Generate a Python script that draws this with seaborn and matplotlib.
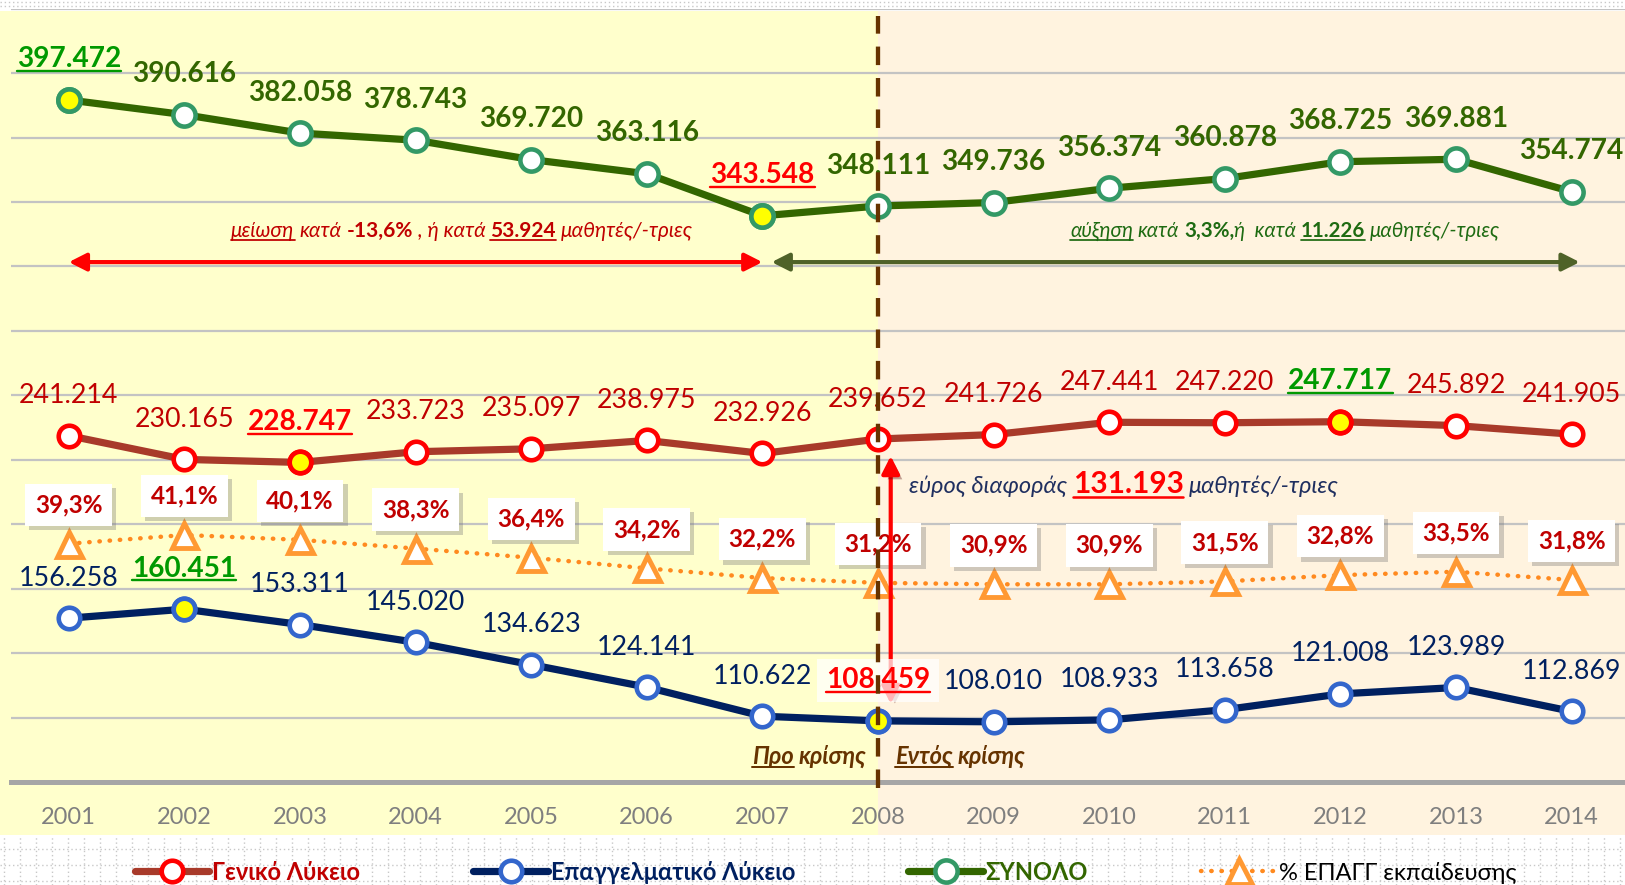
import numpy as np
import pandas as pd
import seaborn as sns
import matplotlib
matplotlib.use("Agg")
import matplotlib.pyplot as plt
import matplotlib.transforms as mtransforms
import matplotlib.patheffects as pe
from matplotlib.lines import Line2D
from matplotlib.patches import Rectangle

# ---------------------------------------------------------------- data
years = list(range(2001, 2015))
total = [397472, 390616, 382058, 378743, 369720, 363116, 343548,
         348111, 349736, 356374, 360878, 368725, 369881, 354774]
general = [241214, 230165, 228747, 233723, 235097, 238975, 232926,
           239652, 241726, 247441, 247220, 247717, 245892, 241905]
vocational = [156258, 160451, 153311, 145020, 134623, 124141, 110622,
              108459, 108010, 108933, 113658, 121008, 123989, 112869]
voc_share = [39.3, 41.1, 40.1, 38.3, 36.4, 34.2, 32.2,
             31.2, 30.9, 30.9, 31.5, 32.8, 33.5, 31.8]
series_names = ["Γενικό Λύκειο", "Επαγγελματικό Λύκειο", "ΣΥΝΟΛΟ",
                "% ΕΠΑΓΓ εκπαίδευσης"]
# highlighted peak / low years of each series
peak_years = {"total": 2001, "general": 2012, "vocational": 2002}
low_years = {"total": 2007, "general": 2003, "vocational": 2008}
crisis_year = 2008

df = pd.DataFrame({"year": years, "total": total, "general": general,
                   "vocational": vocational, "share": voc_share})


def fmt_num(v):
    return f"{int(round(v)):,}".replace(",", ".")


def fmt_pct(p):
    return f"{p:.1f}%".replace(".", ",")


# ---------------------------------------------------------------- style
sns.set_theme(style="white")
plt.rcParams["font.family"] = ["Lato", "DejaVu Sans"]

W, H = 1625, 885
fig = plt.figure(figsize=(W / 100, H / 100), dpi=100)
fig.patch.set_facecolor("white")

ax_left, ax_bottom_px, ax_top_px, cat_w = 11, 782, 8.6, 115.6
ax = fig.add_axes([ax_left / W, 1 - ax_bottom_px / H,
                   14 * cat_w / W, (ax_bottom_px - ax_top_px) / H])
ax.set_facecolor("none")
ax.set_xlim(2000.5, 2014.5)
ax.set_ylim(80000, 440000)

ax2 = ax.twinx()
ax2.set_ylim(-10, 150)
ax2.axis("off")

# ---------------------------------------------------------------- axes
ax.set_yticks(np.arange(110000, 440001, 30000))
ax.tick_params(axis="y", length=0, labelleft=False)
ax.grid(axis="y", color="#C3C3C3", lw=1.6)
ax.grid(axis="x", visible=False)
ax.set_axisbelow(True)
ax.set_xticks(years)
ax.set_xticklabels([str(y) for y in years])
ax.set_xticks(np.arange(2000.5, 2015, 1), minor=True)
ax.tick_params(axis="x", which="major", length=0, pad=18,
               labelsize=17, labelcolor="#7F7F7F")
ax.tick_params(axis="x", which="minor", length=7, width=2.6,
               color="#A6A6A6", direction="out")
for side in ("left", "right", "top"):
    ax.spines[side].set_visible(False)
ax.spines["bottom"].set_color("#A6A6A6")
ax.spines["bottom"].set_linewidth(3.6)

# ---------------------------------------------------------------- backgrounds
split = ax.transData.transform((crisis_year, 0))[0] / fig.bbox.width
top_f, bot_f = 1 - 11 / H, 1 - 835 / H
fig.add_artist(Rectangle((0, bot_f), split, top_f - bot_f, transform=fig.transFigure,
                         fc="#FFFFCC", ec="none", zorder=-3))
fig.add_artist(Rectangle((split, bot_f), 1 - split, top_f - bot_f,
                         transform=fig.transFigure, fc="#FFF3DF", ec="none", zorder=-3))
# dotted chart-area pattern above and below the plot
for xp in np.arange(4, W, 16):
    fig.add_artist(Line2D([xp / W, xp / W], [0, bot_f], transform=fig.transFigure,
                          color="#C8C8C8", lw=1, ls=(0, (1, 2)), zorder=-2))
for yp in (849, 865, 881, 2, 6):
    fig.add_artist(Line2D([0, 1], [1 - yp / H, 1 - yp / H], transform=fig.transFigure,
                          color="#C8C8C8", lw=1, ls=(0, (1, 2)), zorder=-2))

# ---------------------------------------------------------------- series
line_specs = [
    ("general", series_names[0], "#A83A2A", "#FF0000", 15.5, 3.3),
    ("vocational", series_names[1], "#002060", "#3366CC", 15.5, 3.3),
    ("total", series_names[2], "#336600", "#339966", 16, 3.3),
]
for col, name, lc, mc, ms, mew in line_specs:
    sns.lineplot(data=df, x="year", y=col, ax=ax, color=lc, lw=5.2, marker="o",
                 markersize=ms, markerfacecolor="white", markeredgecolor=mc,
                 markeredgewidth=mew, label=name, zorder=4)
    for yr in (peak_years[col], low_years[col]):
        v = df.loc[df["year"] == yr, col].iloc[0]
        ax.plot([yr], [v], "o", ms=ms, mfc="#FFFF00", mec=mc, mew=mew, zorder=5)

sns.lineplot(data=df, x="year", y="share", ax=ax2, color="#FF8A1F", lw=3.2,
             linestyle=(0, (0.1, 2.2)), dash_capstyle="round", marker="^",
             markersize=18, markerfacecolor="white", markeredgecolor="#FF9933",
             markeredgewidth=3.5, label=series_names[3], zorder=4)
ax.set_xlabel("")
ax.set_ylabel("")
for a in (ax, ax2):
    if a.get_legend() is not None:
        a.get_legend().remove()

# ---------------------------------------------------------------- rich text helper
renderer = fig.canvas.get_renderer()


def rich_text(host, x, y, parts, transform, ha="left", zorder=12, bbox=None):
    items, cursor = [], 0.0
    for s, style, underline in parts:
        kw = dict(style)
        p1 = host.text(0, 0, "a a", **kw)
        p2 = host.text(0, 0, "aa", **kw)
        sp = p1.get_window_extent(renderer).width - p2.get_window_extent(renderer).width
        p1.remove()
        p2.remove()
        lead = len(s) - len(s.lstrip(" "))
        trail = len(s) - len(s.rstrip(" "))
        cursor += lead * sp
        t = host.text(0, 0, s.strip(" "), va="baseline", ha="left",
                      zorder=zorder, **kw)
        w = t.get_window_extent(renderer).width
        items.append((t, cursor, w, underline, kw))
        cursor += w + trail * sp
    start = {"left": 0.0, "center": -cursor / 2, "right": -cursor}[ha]
    X0, Y0 = transform.transform((x, y))
    for t, off, w, ul, kw in items:
        t.set_transform(mtransforms.offset_copy(transform, fig=fig, x=start + off,
                                                y=0, units="dots"))
        t.set_position((x, y))
        if bbox is not None:
            t.set_bbox(bbox)
        if ul:
            size_px = kw.get("fontsize", 14) * 100 / 72
            yy = Y0 - 0.13 * size_px
            host.add_artist(Line2D([X0 + start + off, X0 + start + off + w], [yy, yy],
                                   transform=mtransforms.IdentityTransform(),
                                   color=kw.get("color", "k"),
                                   lw=0.085 * kw.get("fontsize", 14),
                                   clip_on=False, zorder=zorder))
    return items


# ---------------------------------------------------------------- data labels
label_lift = 32.5  # px from marker centre to label baseline
lift = mtransforms.offset_copy(ax.transData, fig=fig, x=0, y=label_lift, units="dots")
label_styles = {
    "total": dict(color="#336600", fontsize=20.2, fontweight="bold"),
    "general": dict(color="#C00000", fontsize=19.3),
    "vocational": dict(color="#002060", fontsize=19.3),
}
peak_style = dict(color="#009900", fontsize=20.2, fontweight="bold")
low_style = dict(color="#FF0000", fontsize=20.2, fontweight="bold")
for col, style in label_styles.items():
    for yr, v in zip(years, df[col]):
        if yr == peak_years[col]:
            rich_text(ax, yr, v, [(fmt_num(v), peak_style, True)], lift,
                      ha="center", zorder=6)
        elif yr == low_years[col] and col == "vocational":
            rich_text(ax2, yr, v, [(fmt_num(v), low_style, True)], lift,
                      ha="center", zorder=9,
                      bbox=dict(boxstyle="square,pad=0.3", fc="white", ec="none",
                                alpha=0.72))
        elif yr == low_years[col]:
            rich_text(ax, yr, v, [(fmt_num(v), low_style, True)], lift,
                      ha="center", zorder=6)
        else:
            ax.text(yr, v, fmt_num(v), transform=lift, ha="center", va="baseline",
                    zorder=6, **style)

for yr, p in zip(years, voc_share):
    ann = ax2.annotate(fmt_pct(p), (yr, p), xytext=(0, 28), textcoords="offset points",
                       ha="center", va="center", color="#C00000", fontsize=17.5,
                       fontweight="bold", zorder=6,
                       bbox=dict(boxstyle="square,pad=0.4", fc="white", ec="none"))
    ann.get_bbox_patch().set_path_effects(
        [pe.SimplePatchShadow(offset=(3, -3), shadow_rgbFace="#777777", alpha=0.35),
         pe.Normal()])

# ---------------------------------------------------------------- annotations
i_peak = years.index(peak_years["total"])
i_low = years.index(low_years["total"])
drop = total[i_peak] - total[i_low]
drop_pct = drop / total[i_peak] * 100
rise = total[-1] - total[i_low]
rise_pct = rise / total[i_low] * 100
ci = years.index(crisis_year)
gap_crisis = general[ci] - vocational[ci]

red_it = dict(color="#C00000", fontsize=15, fontstyle="italic")
red_bd = dict(color="#C00000", fontsize=15, fontweight="bold")
rich_text(ax2, 2004.4, 333700, [
    ("μείωση", red_it, True), (" κατά ", red_it, False),
    ("-" + fmt_pct(drop_pct), red_bd, False), (" , ή κατά ", red_it, False),
    (fmt_num(drop), red_bd, True), (" μαθητές/-τριες", red_it, False)],
    ax.transData, ha="center")

grn_it = dict(color="#1E6B12", fontsize=14.8, fontstyle="italic")
grn_bd = dict(color="#1E6B12", fontsize=14.8, fontweight="bold")
rich_text(ax2, 2011.52, 333700, [
    ("αύξηση", grn_it, True), (" κατά ", grn_it, False),
    (fmt_pct(rise_pct) + ",", grn_bd, False), ("ή  κατά ", grn_it, False),
    (fmt_num(rise), grn_bd, True), (" μαθητές/-τριες", grn_it, False)],
    ax.transData, ha="center")

arrow_style = "<|-|>,head_length=0.75,head_width=0.38"
ax2.annotate("", xy=(years[i_peak], 322000), xytext=(years[i_low], 322000),
             xycoords=ax.transData, textcoords=ax.transData,
             arrowprops=dict(arrowstyle=arrow_style, color="#FF0000", lw=3,
                             mutation_scale=14, shrinkA=0, shrinkB=0), zorder=7)
ax2.annotate("", xy=(years[i_low] + 0.08, 322000), xytext=(years[-1] + 0.07, 322000),
             xycoords=ax.transData, textcoords=ax.transData,
             arrowprops=dict(arrowstyle=arrow_style, color="#4F6228", lw=3,
                             mutation_scale=14, shrinkA=0, shrinkB=0), zorder=7)

# spread between the two school types in the crisis year
x_gap = crisis_year + 0.11
arr = ax2.annotate("", xy=(x_gap, general[ci] - 7900), xytext=(x_gap, vocational[ci] + 7900),
                   xycoords=ax.transData, textcoords=ax.transData,
                   arrowprops=dict(arrowstyle=arrow_style, color="#FF0000", lw=3,
                                   mutation_scale=14, shrinkA=0, shrinkB=0), zorder=8)
arr.arrow_patch.set_path_effects([pe.SimplePatchShadow(offset=(3, -3), alpha=0.35),
                                  pe.Normal()])

navy_it = dict(color="#1F2F60", fontsize=17, fontstyle="italic")
rich_text(ax2, 2008.27, 214500, [
    ("εύρος διαφοράς ", navy_it, False),
    (fmt_num(gap_crisis), dict(color="#FF0000", fontsize=21.5, fontweight="bold"), True),
    (" μαθητές/-τριες", navy_it, False)], ax.transData, ha="left")

brown = dict(color="#663300", fontsize=17, fontweight="bold", fontstyle="italic")
rich_text(ax2, crisis_year - 0.1, 88400, [("Προ", brown, True), (" κρίσης", brown, False)],
          ax.transData, ha="right")
rich_text(ax2, crisis_year + 0.15, 88400, [("Εντός", brown, True), (" κρίσης", brown, False)],
          ax.transData, ha="left")

# crisis divider
ax2.axvline(crisis_year, ymin=-0.008, ymax=0.99, color="#663300", lw=3.1,
            ls=(0, (4.3, 3.0)), clip_on=False, zorder=10)

# ---------------------------------------------------------------- legend
h1, l1 = ax.get_legend_handles_labels()
h2, l2 = ax2.get_legend_handles_labels()
handles = dict(zip(l1 + l2, h1 + h2))
leg = fig.legend([handles[n] for n in series_names], series_names, loc="center",
                 bbox_to_anchor=(0.508, 1 - 872 / H), ncol=4, frameon=False,
                 fontsize=17, handlelength=3.15, handletextpad=0.12, columnspacing=4.8,
                 borderpad=0)
leg_styles = [("#C00000", "bold"), ("#002060", "bold"), ("#336600", "bold"),
              ("#000000", "normal")]
for txt, (c, w) in zip(leg.get_texts(), leg_styles):
    txt.set_color(c)
    txt.set_fontweight(w)

fig.savefig("out.png", dpi=100, facecolor=fig.get_facecolor())
